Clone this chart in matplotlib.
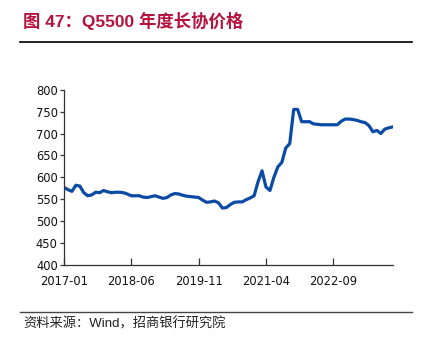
import matplotlib
matplotlib.use("Agg")
import matplotlib.pyplot as plt
from matplotlib.lines import Line2D
import numpy as np

# Monthly Q5500 long-term contract price, 2017-01 .. 2023-12
months = [f"{y}-{m:02d}" for y in range(2017, 2024) for m in range(1, 13)]
prices = [
    577, 572, 568, 582, 580, 565, 558, 560, 566, 565, 570, 567,
    565, 566, 566, 565, 562, 558, 558, 558, 555, 554, 556, 558,
    555, 552, 554, 560, 563, 562, 559, 557, 556, 555, 554, 548,
    543, 544, 546, 542, 530, 531, 538, 543, 544, 544, 549, 553,
    558, 590, 615, 578, 570, 600, 624, 634, 667, 677, 755, 755,
    727, 727, 727, 722, 721, 720, 720, 720, 720, 720, 728, 733,
    733, 732, 730, 727, 725, 718, 704, 707, 700, 710, 713, 715,
]
tick_labels = ["2017-01", "2018-06", "2019-11", "2021-04", "2022-09"]
y_ticks = [400, 450, 500, 550, 600, 650, 700, 750, 800]

title = "图 47：Q5500 年度长协价格"
source = "资料来源：Wind，招商银行研究院"

fig = plt.figure(figsize=(4.24, 3.45), dpi=100)
ax = fig.add_axes([64 / 424, 1 - 265 / 345, 328.7 / 424, 175.3 / 345])

x = np.arange(len(prices))
ax.plot(x, prices, color="#0b4ba5", lw=2.3, solid_joinstyle="round")

ax.set_xlim(0, len(prices) - 1)
ax.set_ylim(400, 800)
ax.set_yticks(y_ticks)
ax.set_yticklabels([str(v) for v in y_ticks])
tick_pos = [months.index(t) for t in tick_labels]
ax.set_xticks(tick_pos)
ax.set_xticklabels(tick_labels)

for side in ("top", "right"):
    ax.spines[side].set_visible(False)
for side in ("left", "bottom"):
    ax.spines[side].set_color("#333333")
    ax.spines[side].set_linewidth(0.9)

ax.tick_params(axis="y", direction="out", length=3, pad=1.5, width=0.9,
               color="#333333", labelsize=8.3, labelcolor="#111111")
ax.tick_params(axis="x", direction="in", length=5, pad=7.5, width=0.9,
               color="#333333", labelsize=8.3, labelcolor="#111111")
for lab in ax.get_xticklabels() + ax.get_yticklabels():
    lab.set_fontfamily("DejaVu Sans")

# Header and footer
fig.text(23 / 424, 1 - 21 / 345, title, fontsize=12.5, fontweight="bold",
         color="#b5123d", va="center", ha="left",
         family=["Liberation Sans", "Noto Sans CJK SC"])
fig.add_artist(Line2D([20 / 424, 412 / 424], [1 - 42 / 345, 1 - 42 / 345],
                      color="#111111", lw=1.3, transform=fig.transFigure))
fig.add_artist(Line2D([20 / 424, 412 / 424], [1 - 312 / 345, 1 - 312 / 345],
                      color="#444444", lw=1.0, transform=fig.transFigure))
fig.text(23 / 424, 1 - 324 / 345, source, fontsize=9.5, color="#222222",
         va="center", ha="left",
         family=["Liberation Sans", "Noto Sans CJK SC"])

fig.savefig("out.png", dpi=100)
